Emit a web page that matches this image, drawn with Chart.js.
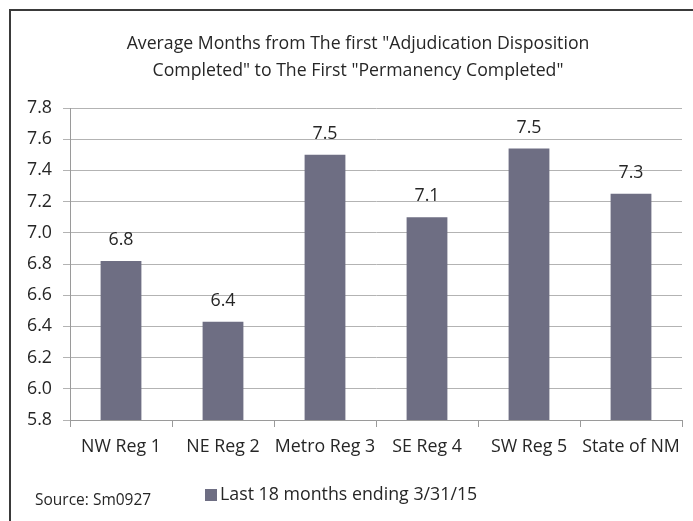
<!DOCTYPE html>
<html>
<head>
<meta charset="utf-8">
<script src="https://cdn.jsdelivr.net/npm/chart.js@4/dist/chart.umd.min.js"></script>
<style>
  html, body { margin: 0; padding: 0; background: #fff; }
  #wrap { width: 693px; height: 521px; }
</style>
</head>
<body>
<div id="wrap"><canvas id="chart" width="693" height="521"></canvas></div>
<script>
// dados
const regioes = ['NW Reg 1', 'NE Reg 2', 'Metro Reg 3', 'SE Reg 4', 'SW Reg 5', 'State of NM']
const mediaMeses = [6.82, 6.43, 7.50, 7.10, 7.54, 7.25]
const tituloLinhas = ['Average Months from The first "Adjudication Disposition', 'Completed" to The First "Permanency Completed"']
const serieNome = 'Last 18 months ending 3/31/15'
const fonteTexto = 'Source: Sm0927'

const FONTE = "'Open Sans', sans-serif"
const corBarra = '#6e6e83'
const corTexto = '#262626'
const corEixo = '#9a9a9a'

// moldura, titulo, rotulos das barras, legenda e fonte
const extras = {
  id: 'extras',
  beforeDraw(chart) {
    const ctx = chart.ctx
    ctx.save()
    ctx.fillStyle = '#fff'
    ctx.fillRect(0, 0, chart.width, chart.height)
    ctx.strokeStyle = '#3a3a3a'
    ctx.lineWidth = 2
    ctx.beginPath()
    ctx.moveTo(10, chart.height + 5)
    ctx.lineTo(10, 10)
    ctx.lineTo(chart.width + 5, 10)
    ctx.stroke()
    // titulo
    ctx.font = '17.7px ' + FONTE
    ctx.fillStyle = corTexto
    ctx.textAlign = 'center'
    ctx.textBaseline = 'middle'
    tituloLinhas.forEach((linha, i) => ctx.fillText(linha, 358, 44 + i * 27))
    ctx.restore()
  },
  afterDatasetsDraw(chart) {
    const ctx = chart.ctx
    const meta = chart.getDatasetMeta(0)
    ctx.save()
    ctx.font = '17.8px ' + FONTE
    ctx.fillStyle = corTexto
    ctx.textAlign = 'center'
    ctx.textBaseline = 'middle'
    meta.data.forEach((bar, i) => {
      ctx.fillText(mediaMeses[i].toFixed(1), bar.x, bar.y - 21)
    })
    // legenda
    ctx.fillStyle = corBarra
    ctx.fillRect(205, 489, 12, 12)
    ctx.fillStyle = corTexto
    ctx.textAlign = 'left'
    ctx.fillText(serieNome, 220, 495)
    // fonte
    ctx.font = '15.5px ' + FONTE
    ctx.fillText(fonteTexto, 35, 501)
    ctx.restore()
  }
}

new Chart(document.getElementById('chart'), {
  type: 'bar',
  data: {
    labels: regioes,
    datasets: [{
      label: serieNome,
      data: mediaMeses,
      backgroundColor: corBarra,
      barPercentage: 0.4,
      categoryPercentage: 1.0
    }]
  },
  options: {
    responsive: false,
    animation: false,
    layout: { padding: { left: 10, right: 11, top: 108, bottom: 41 } },
    plugins: {
      legend: { display: false },
      tooltip: { enabled: false },
      title: { display: false }
    },
    scales: {
      x: {
        grid: { display: true, drawOnChartArea: false, drawTicks: true, offset: true, tickLength: 7, color: corEixo },
        border: { display: true, color: corEixo },
        ticks: { color: corTexto, font: { family: FONTE, size: 17.8 }, padding: 9, maxRotation: 0, autoSkip: false },
        afterFit(s) { s.height = 60 }
      },
      y: {
        min: 5.8,
        max: 7.8,
        grid: { color: '#b3b3b3', tickLength: 7 },
        border: { display: true, color: corEixo },
        ticks: {
          stepSize: 0.2,
          color: corTexto,
          font: { family: FONTE, size: 17.8 },
          padding: 11,
          callback: v => v.toFixed(1)
        },
        afterFit(s) { s.width = 60 }
      }
    }
  },
  plugins: [extras]
})
</script>
</body>
</html>
